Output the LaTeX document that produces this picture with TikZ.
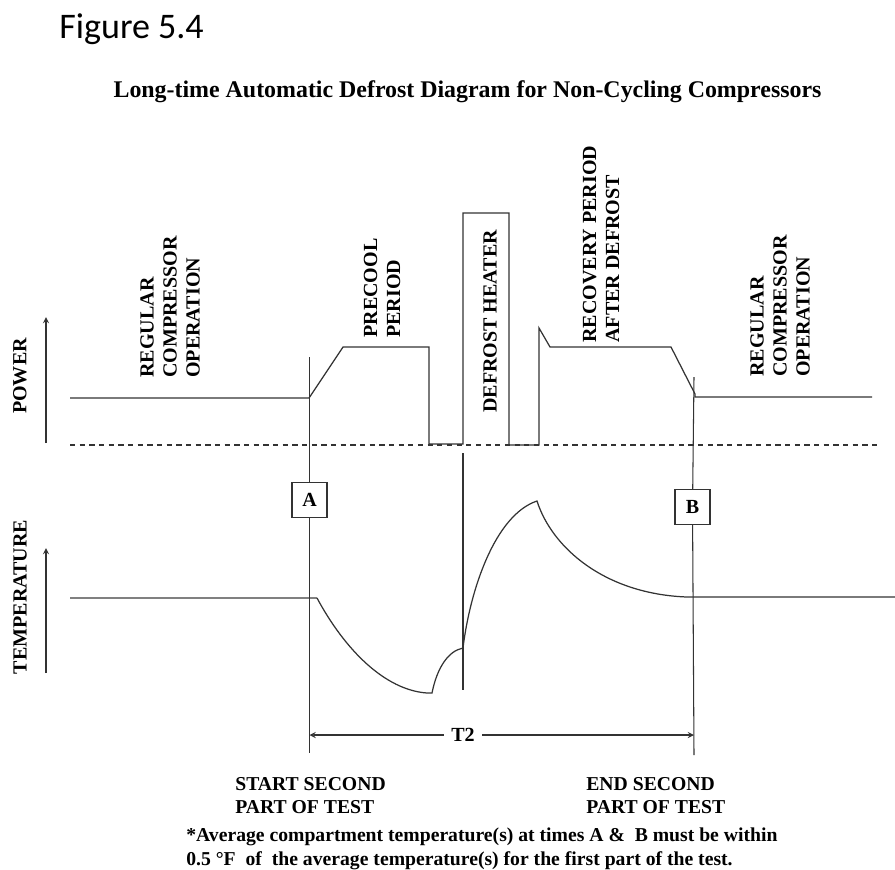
\documentclass[tikz,border=0pt]{standalone}
\usepackage{fontspec}
\setmainfont{Liberation Serif}
\newfontfamily\figfont{Carlito}
\usetikzlibrary{positioning}

\begin{document}
\begin{tikzpicture}[x=0.02cm,y=-0.02cm,
                trace/.style={line width=0.7pt,draw=black!80},
                axis/.style={line width=0.6pt,draw=black!80,-stealth},
                marker/.style={line width=0.6pt,draw=black!80},
                zero/.style={line width=0.6pt,draw=black!80,dash pattern=on 3pt off 2.5pt},
                vlabel/.style={rotate=90,anchor=west,align=left,inner sep=0pt,
                        font=\bfseries\fontsize{11.4}{13.1}\selectfont},
                markbox/.style={draw=black!80,fill=white,line width=0.6pt,minimum size=0.7cm,
                        inner sep=0pt,font=\bfseries\fontsize{11.4}{13}\selectfont},
                note/.style={align=left,inner sep=0pt,anchor=north west,
                        font=\bfseries\fontsize{11.2}{13.1}\selectfont}]
            \useasboundingbox (0,0) rectangle (895,869);
            \node[anchor=base west,inner sep=0pt,font=\figfont\fontsize{20.5}{24}\selectfont] (fig) at (59,38) {Figure 5.4};
            \node[anchor=base,inner sep=0pt,font=\bfseries\fontsize{13.6}{16}\selectfont] (title) at (467.5,97)
            {Long-time Automatic Defrost Diagram for Non-Cycling Compressors};
            % axes
            \node[vlabel,anchor=center] (pwlab) at (20,376) {POWER};
            \node[vlabel,anchor=center] (tplab) at (20,597) {TEMPERATURE};
            \coordinate (pw0) at (46,443); \coordinate (pw1) at (46,317);
            \coordinate (tp0) at (46,673); \coordinate (tp1) at (46,548);
            \draw[axis] (pw0) -- (pw1);
            \draw[axis] (tp0) -- (tp1);
            \draw[zero] (70,445) -- (880,445);
            % phase labels
            \node[vlabel] (reg1) at (170,378) {REGULAR\\COMPRESSOR\\OPERATION};
            \node[vlabel] (pre) at (382,338) {PRECOOL\\PERIOD};
            \node[vlabel] (heat) at (490,413) {DEFROST HEATER};
            \node[vlabel] (rec) at (601,343) {RECOVERY PERIOD\\AFTER DEFROST};
            \node[vlabel] (reg2) at (780,377) {REGULAR\\COMPRESSOR\\OPERATION};
            % power trace
            \draw[trace] (70,398) -- (309,398) -- (343,347) -- (429,347) -- (429,444) -- (463,444)
            -- (463,213) -- (509,213) -- (509,445) -- (539,445) -- (539,328) -- (550,347)
            -- (671,347) -- (695,394) -- (695,397) -- (872,397);
            % temperature trace
            \draw[trace,draw=black!50] (70,598) -- (317,598);
            \draw[trace] (317,598) .. controls (345,650) and (385,690) .. (427,693) -- (432,693)
            .. controls (437,668) and (448,651) .. (463,648)
            .. controls (470,590) and (495,515) .. (537,501)
            .. controls (552,548) and (605,594) .. (687,597) -- (895,597);
            % time markers
            \node[markbox] (A) at (309.5,500) {A};
            \node[markbox] (B) at (692.5,507) {B};
            \coordinate (a0) at (309.5,357); \coordinate (a1) at (309.5,753);
            \coordinate (b0) at (694,377); \coordinate (b1) at (694,755);
            \coordinate (h0) at (463,453); \coordinate (h1) at (463,690);
            \draw[marker] (a0) -- (A) -- (a1);
            \draw[marker] (b0) -- (B) -- (b1);
            \draw[marker] (h0) -- (h1);
            \node[inner xsep=4pt,font=\bfseries\fontsize{11.4}{13}\selectfont] (t2) at (463,735) {T2};
            \coordinate (ta) at (309.5,735); \coordinate (tb) at (694,735);
            \draw[axis] (t2) -- (ta);
            \draw[axis] (t2) -- (tb);
            % captions
            \node[note] (start) at (235,777) {START SECOND\\PART OF TEST};
            \node[note] (end) at (586,777) {END SECOND\\PART OF TEST};
            \node[note,font=\bfseries\fontsize{11.2}{14.2}\selectfont] (foot) at (186,827)
            {*Average compartment temperature(s) at times A \&~ B must be within\\
                0.5 °F~ of~ the average temperature(s) for the first part of the test.};
        \end{tikzpicture}
\end{document}
